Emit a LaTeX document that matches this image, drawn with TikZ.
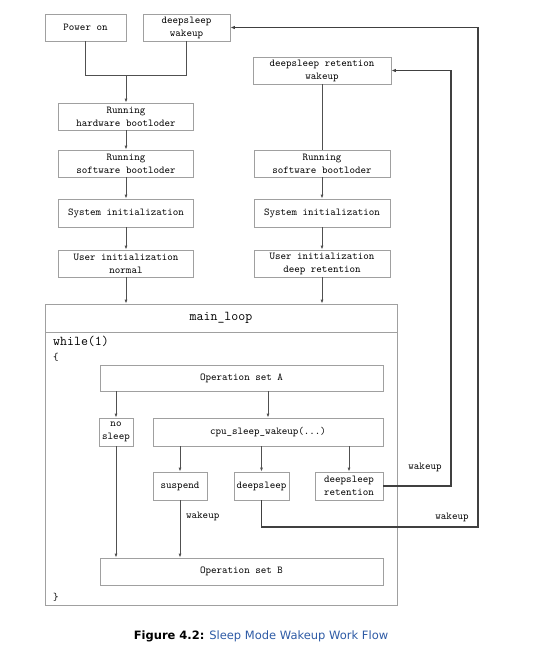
\documentclass[tikz,border=0pt]{standalone}
\usepackage{fontspec}
\usepackage{xcolor}
\newfontfamily\capfont{DejaVu Sans}
\definecolor{boxgray}{RGB}{160,160,160}
\definecolor{linegray}{RGB}{80,80,80}
\definecolor{capblue}{RGB}{45,90,165}
\usetikzlibrary{arrows.meta,positioning,calc}

\begin{document}
\begin{tikzpicture}[x=1pt, y=-1pt,
    blk/.style={draw=boxgray, line width=0.8pt, inner sep=0pt, align=center,
        font=\ttfamily\fontsize{10.5}{13}\selectfont},
    flow/.style={draw=linegray, line width=0.8pt, -{Latex[length=4pt,width=3pt]}},
    link/.style={draw=linegray, line width=0.8pt},
    back/.style={draw=black!75, line width=1.4pt, -{Latex[length=4.5pt,width=3.5pt]}},
    lbl/.style={font=\ttfamily\fontsize{10.5}{13}\selectfont, inner sep=0pt}]
    \useasboundingbox (0,0) rectangle (546,649);

    % Start boxes
    \node[blk, minimum width=81, minimum height=27] (power) at (85.5,27.5) {Power on};
    \node[blk, minimum width=87, minimum height=27] (dwake) at (186.5,27.5) {deepsleep\\wakeup};
    \node[blk, minimum width=138, minimum height=27] (dwret) at (322,70.5) {deepsleep retention\\wakeup};

    % Left column
    \node[blk, minimum width=135, minimum height=27] (hwboot) at (126,116.5) {Running\\hardware bootloder};
    \node[blk, minimum width=135, minimum height=27] (swbootL) at (126,163.5) {Running\\software bootloder};
    \node[blk, minimum width=135, minimum height=28] (sysL) at (126,213) {System initialization};
    \node[blk, minimum width=135, minimum height=27] (userL) at (126,263.5) {User initialization\\normal};

    % Right column
    \node[blk, minimum width=136, minimum height=27] (swbootR) at (322,163.5) {Running\\software bootloder};
    \node[blk, minimum width=136, minimum height=28] (sysR) at (322,213) {System initialization};
    \node[blk, minimum width=136, minimum height=27] (userR) at (322,263.5) {User initialization\\deep retention};

    % Main loop frame
    \node[draw=boxgray, line width=0.8pt, minimum width=352, minimum height=301, inner sep=0pt] (mainbox) at (221,454.5) {};
    \node[blk, minimum width=352, minimum height=28, font=\ttfamily\fontsize{13.5}{15}\selectfont] (mainhd) at (221,318) {main\_loop};
    \node[lbl, anchor=west, font=\ttfamily\fontsize{13.5}{15}\selectfont] (while) at (53,341) {while(1)};
    \node[lbl, anchor=west] (lbrace) at (53,357) {\{};
    \node[lbl, anchor=west] (rbrace) at (53,597) {\}};

    % Inner boxes
    \node[blk, minimum width=283, minimum height=26] (opA) at (241.5,378) {Operation set A};
    \node[blk, minimum width=34, minimum height=28] (nosleep) at (116,432) {no\\sleep};
    \node[blk, minimum width=230, minimum height=28] (cpu) at (268,432) {cpu\_sleep\_wakeup(...)};
    \node[blk, minimum width=54, minimum height=28] (susp) at (180,486) {suspend};
    \node[blk, minimum width=55, minimum height=28] (dsleep) at (261.5,486) {deepsleep};
    \node[blk, minimum width=68, minimum height=28] (dsret) at (349,486) {deepsleep\\retention};
    \node[blk, minimum width=283, minimum height=27] (opB) at (241.5,571.5) {Operation set B};

    % Helper coordinates
    \coordinate (join) at (126,75);
    \coordinate (rx) at (451,0);
    \coordinate (ox) at (478,0);
    \coordinate (oy) at (0,527);

    % Boot flow
    \draw[link] (power.south) -- (power.south |- join) -- (dwake.south |- join) -- (dwake.south);
    \draw[flow] (join) -- (join |- hwboot.north);
    \draw[flow] (hwboot) -- (swbootL);
    \draw[flow] (swbootL) -- (sysL);
    \draw[flow] (sysL) -- (userL);
    \draw[flow] (userL) -- (userL |- mainhd.north);
    \draw[link] (dwret) -- (swbootR);
    \draw[flow] (swbootR) -- (sysR);
    \draw[flow] (sysR) -- (userR);
    \draw[flow] (userR) -- (userR |- mainhd.north);

    % Loop body
    \draw[flow] (opA.south -| nosleep.north) -- (nosleep.north);
    \draw[flow] (opA.south -| cpu.north) -- (cpu.north);
    \draw[flow] (cpu.south -| susp.north) -- (susp.north);
    \draw[flow] (cpu.south -| dsleep.north) -- (dsleep.north);
    \draw[flow] (cpu.south -| dsret.north) -- (dsret.north);
    \draw[flow] (nosleep.south) -- (nosleep.south |- opB.north);
    \draw[flow] (susp.south) -- (susp.south |- opB.north);
    \node[lbl, anchor=west] (wkS) at (186,516) {wakeup};

    % Wakeup paths
    \draw[back] (dsret.east) -| (rx |- dwret.east) -- (dwret.east);
    \draw[back] (dsleep.south) -- (dsleep.south |- oy) -| (ox |- dwake.east) -- (dwake.east);
    \node[lbl] (wkR) at (425,467) {wakeup};
    \node[lbl] (wkD) at (452,517) {wakeup};

    % Caption
    \node (cap) at (261,636) {\capfont\fontsize{11.5}{13}\selectfont\textbf{Figure 4.2:} \textcolor{capblue}{Sleep Mode Wakeup Work Flow}};
\end{tikzpicture}
\end{document}
